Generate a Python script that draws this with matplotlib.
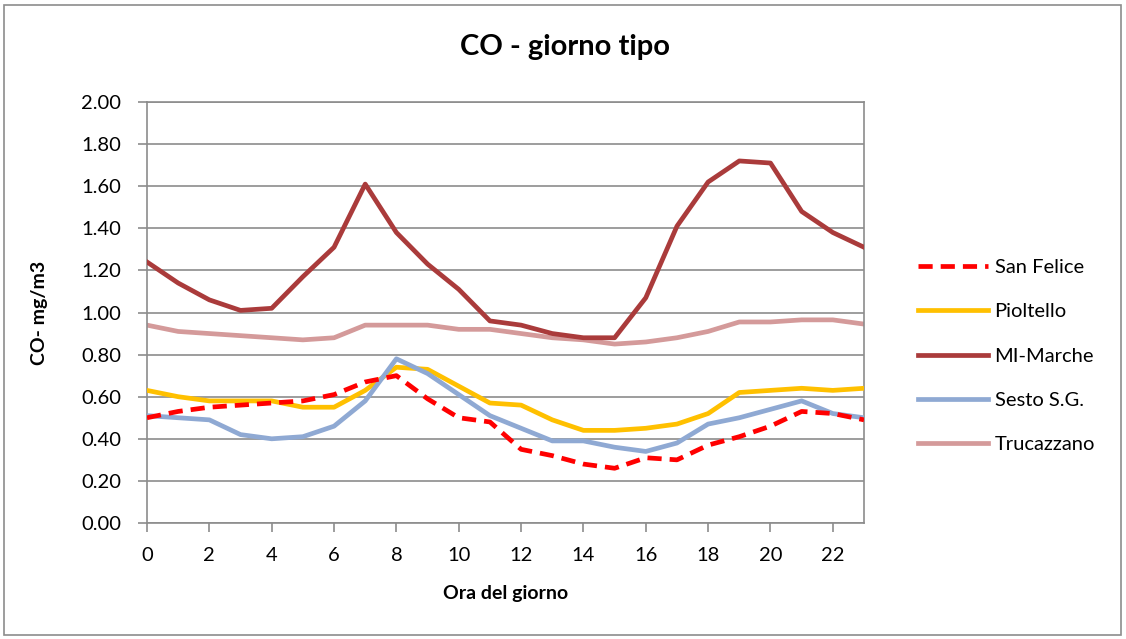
import matplotlib
matplotlib.use("Agg")
import matplotlib.pyplot as plt
from matplotlib.patches import Rectangle

hours = list(range(24))
san_felice = [0.50, 0.53, 0.55, 0.56, 0.57, 0.58, 0.61, 0.67, 0.70, 0.59, 0.50, 0.48,
              0.35, 0.32, 0.28, 0.26, 0.31, 0.30, 0.37, 0.41, 0.46, 0.53, 0.52, 0.49]
pioltello = [0.63, 0.60, 0.58, 0.58, 0.58, 0.55, 0.55, 0.63, 0.74, 0.73, 0.65, 0.57,
             0.56, 0.49, 0.44, 0.44, 0.45, 0.47, 0.52, 0.62, 0.63, 0.64, 0.63, 0.64]
mi_marche = [1.24, 1.14, 1.06, 1.01, 1.02, 1.17, 1.31, 1.61, 1.38, 1.23, 1.11, 0.96,
             0.94, 0.90, 0.88, 0.88, 1.07, 1.41, 1.62, 1.72, 1.71, 1.48, 1.38, 1.31]
sesto = [0.51, 0.50, 0.49, 0.42, 0.40, 0.41, 0.46, 0.58, 0.78, 0.71, 0.61, 0.51,
         0.45, 0.39, 0.39, 0.36, 0.34, 0.38, 0.47, 0.50, 0.54, 0.58, 0.52, 0.50]
trucazzano = [0.94, 0.91, 0.90, 0.89, 0.88, 0.87, 0.88, 0.94, 0.94, 0.94, 0.92, 0.92,
              0.90, 0.88, 0.87, 0.85, 0.86, 0.88, 0.91, 0.955, 0.955, 0.965, 0.965, 0.945]

series_names = ["San Felice", "Pioltello", "MI-Marche", "Sesto S.G.", "Trucazzano"]
x_ticks = list(range(0, 23, 2))
y_ticks = [0.0, 0.2, 0.4, 0.6, 0.8, 1.0, 1.2, 1.4, 1.6, 1.8, 2.0]

plt.rcParams['font.family'] = ['Lato', 'DejaVu Sans']

W, H = 1126, 639
fig = plt.figure(figsize=(W / 100, H / 100), dpi=100)
fig.patches.append(Rectangle((4 / W, 4 / H), 1 - 9 / W, 1 - 9 / H, transform=fig.transFigure,
                             fill=False, edgecolor='#8c8c8c', linewidth=1.2))

left, right, top, bottom = 147, 864, 102, 523
ax = fig.add_axes([left / W, 1 - bottom / H, (right - left) / W, (bottom - top) / H])

lw = 3.4
ax.plot(hours, san_felice, color='#FF0000', lw=lw, dashes=(3.0, 1.7), label=series_names[0], zorder=5)
ax.plot(hours, pioltello, color='#FFC000', lw=lw, label=series_names[1], zorder=3)
ax.plot(hours, mi_marche, color='#AA3B3B', lw=lw, label=series_names[2], zorder=4)
ax.plot(hours, sesto, color='#8FA9D3', lw=lw, label=series_names[3], zorder=4)
ax.plot(hours, trucazzano, color='#D49A9A', lw=lw, label=series_names[4], zorder=2)

ax.set_xlim(0, 23)
ax.set_ylim(0, 2.0)
ax.set_xticks(x_ticks)
ax.set_yticks(y_ticks)
ax.set_yticklabels([f"{v:.2f}" for v in y_ticks])
ax.yaxis.grid(True, color='#8c8c8c', lw=1.2)
ax.set_axisbelow(True)
for s in ax.spines.values():
    s.set_color('#8c8c8c')
    s.set_linewidth(1.2)
ax.tick_params(axis='both', colors='#8c8c8c', length=6.5, width=1.2, labelcolor='black', labelsize=14.5)
ax.tick_params(axis='x', pad=11)
ax.tick_params(axis='y', pad=12)

ax.set_xlabel("Ora del giorno", fontsize=14, fontweight='bold', labelpad=15)
ax.set_ylabel("CO- mg/m3", fontsize=14, fontweight='bold', labelpad=24)
fig.text(565 / W, 1 - 47 / H, "CO - giorno tipo", ha='center', va='center', fontsize=21, fontweight='bold')

leg = fig.legend(loc='center left', bbox_to_anchor=(918 / W, 1 - 356 / H), frameon=False,
                 fontsize=14.5, handlelength=3.5, handletextpad=0.3, labelspacing=1.35,
                 borderpad=0, borderaxespad=0)

fig.savefig("out.png", dpi=100)
